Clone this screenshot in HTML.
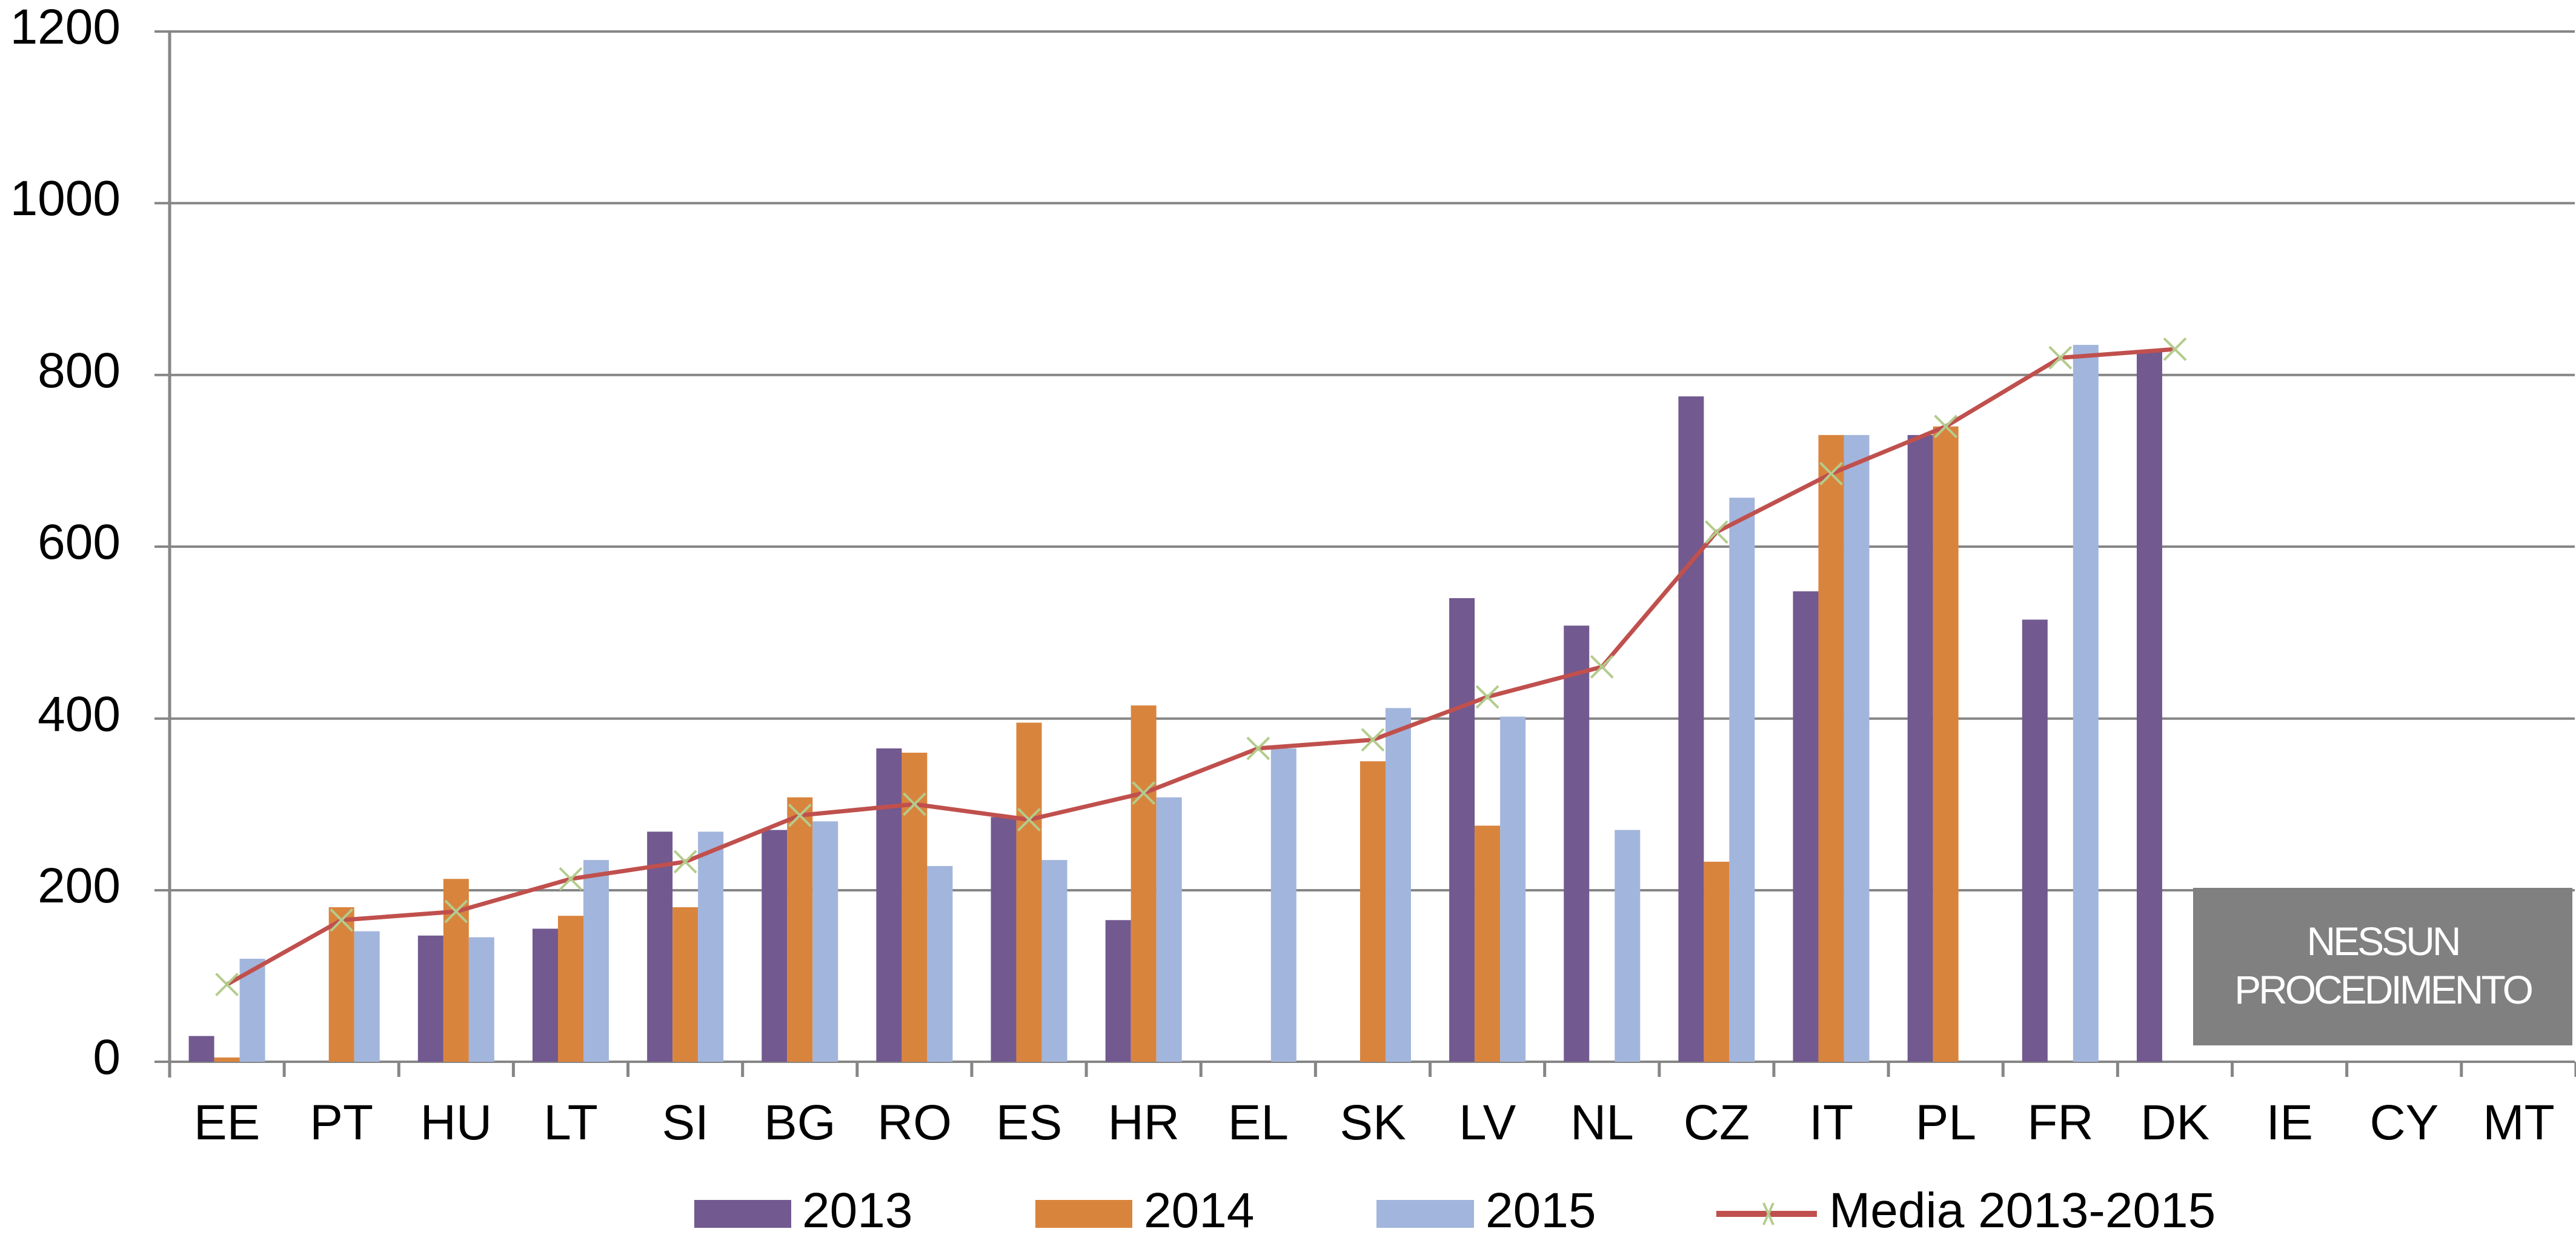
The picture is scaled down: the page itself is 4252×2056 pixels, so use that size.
<!DOCTYPE html>
<html><head><meta charset="utf-8"><style>
html,body{margin:0;padding:0;background:#fff;}
svg{display:block;}
text{font-family:"Liberation Sans",Arial,sans-serif;fill:#000;}
</style></head><body>
<svg id="s" width="4252" height="2056" viewBox="0 0 4252 2056" xmlns="http://www.w3.org/2000/svg">
<g stroke="#868686" stroke-width="4">
<line x1="255" y1="52" x2="4250" y2="52"/>
<line x1="255" y1="335.3" x2="4250" y2="335.3"/>
<line x1="255" y1="618.7" x2="4250" y2="618.7"/>
<line x1="255" y1="902" x2="4250" y2="902"/>
<line x1="255" y1="1185.7" x2="4250" y2="1185.7"/>
<line x1="255" y1="1469" x2="4250" y2="1469"/>
<line x1="255" y1="1752" x2="4250" y2="1752"/>
</g>
<g id="bars"></g>
<rect x="3620" y="1465" width="626" height="260" fill="#808080"/>
<text x="3933" y="1576" font-size="66" text-anchor="middle" letter-spacing="-4" style="fill:#fff">NESSUN</text>
<text x="3933" y="1656" font-size="66" text-anchor="middle" letter-spacing="-4" style="fill:#fff">PROCEDIMENTO</text>
<g id="axes" stroke="#868686"></g>
<g id="line"></g>
<g font-size="82" text-anchor="end">
<text x="199" y="72">1200</text>
<text x="199" y="355">1000</text>
<text x="199" y="639">800</text>
<text x="199" y="922">600</text>
<text x="199" y="1206">400</text>
<text x="199" y="1489">200</text>
<text x="199" y="1772">0</text>
</g>
<g font-size="82" text-anchor="middle">
<text x="374.6" y="1880">EE</text><text x="563.7" y="1880">PT</text><text x="752.9" y="1880">HU</text>
<text x="942" y="1880">LT</text><text x="1131.2" y="1880">SI</text><text x="1320.3" y="1880">BG</text>
<text x="1509.5" y="1880">RO</text><text x="1698.6" y="1880">ES</text><text x="1887.8" y="1880">HR</text>
<text x="2076.9" y="1880">EL</text><text x="2266.1" y="1880">SK</text><text x="2455.2" y="1880">LV</text>
<text x="2644.4" y="1880">NL</text><text x="2833.5" y="1880">CZ</text><text x="3022.6" y="1880">IT</text>
<text x="3211.8" y="1880">PL</text><text x="3400.9" y="1880">FR</text><text x="3590.1" y="1880">DK</text>
<text x="3779.2" y="1880">IE</text><text x="3968.4" y="1880">CY</text><text x="4157.5" y="1880">MT</text>
</g>
<rect x="1146" y="1980" width="160" height="46" fill="#725990"/>
<text x="1324" y="2025" font-size="82">2013</text>
<rect x="1709" y="1980" width="160" height="46" fill="#d9843d"/>
<text x="1888" y="2025" font-size="82">2014</text>
<rect x="2272" y="1980" width="161" height="46" fill="#a2b5dc"/>
<text x="2452" y="2025" font-size="82">2015</text>
<line x1="2833" y1="2003" x2="2999" y2="2003" stroke="#c0504d" stroke-width="10"/>
<path d="M2911 1985 L2927 2021 M2927 1985 L2911 2021" stroke="#b3cc8c" stroke-width="4"/>
<text x="3019" y="2025" font-size="82">Media 2013-2015</text>
</svg>
<script>
(function(){
var NS="http://www.w3.org/2000/svg";
var W=189.14,X0=280,Y0=1752,S=1.41667;
var d=[[30,5,120,90],[null,180,152,165],[147,213,145,175],[155,170,235,213],[268,180,268,233],[270,308,280,287],[365,360,228,300],[285,395,235,282],[165,415,308,313],[null,null,365,365],[null,350,412,375],[540,275,402,425],[508,null,270,460],[775,233,657,617],[548,730,730,685],[730,740,null,740],[515,null,835,820],[828,null,null,830]];
var cols=["#725990","#d9843d","#a2b5dc"];
var bars=document.getElementById("bars"),ax=document.getElementById("axes"),ln=document.getElementById("line");
function el(t,a,p){var e=document.createElementNS(NS,t);for(var k in a)e.setAttribute(k,a[k]);p.appendChild(e);return e;}
var pts=[];
d.forEach(function(r,i){var c=X0+W*(i+0.5);
for(var j=0;j<3;j++){if(r[j]==null)continue;var h=r[j]*S;el("rect",{x:c-63+j*42,y:Y0-h,width:42,height:h,fill:cols[j]},bars);}
pts.push([c,Y0-r[3]*S]);});
el("line",{x1:280,y1:50,x2:280,y2:1778,"stroke-width":5},ax);
for(var i=1;i<=21;i++){var x=X0+W*i;el("line",{x1:x,y1:1752,x2:x,y2:1777,"stroke-width":5},ax);}
el("polyline",{points:pts.map(function(p){return p.join(",");}).join(" "),fill:"none",stroke:"#c0504d","stroke-width":7,"stroke-linejoin":"round"},ln);
pts.forEach(function(p){el("path",{d:"M"+(p[0]-18)+" "+(p[1]-18)+" L"+(p[0]+18)+" "+(p[1]+18)+" M"+(p[0]+18)+" "+(p[1]-18)+" L"+(p[0]-18)+" "+(p[1]+18),stroke:"#b3cc8c","stroke-width":4},ln);});
})();
</script>
</body></html>
